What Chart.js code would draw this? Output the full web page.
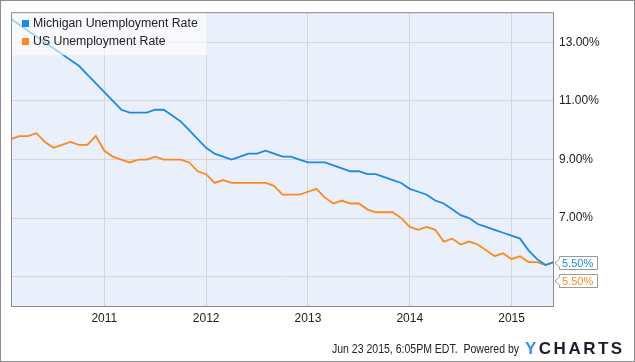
<!DOCTYPE html>
<html>
<head>
<meta charset="utf-8">
<script src="https://cdn.jsdelivr.net/npm/chart.js@4/dist/chart.umd.min.js"></script>
<style>
  body { margin: 0; background: #fff; }
  canvas { display: block; }
</style>
</head>
<body>
<canvas id="chart" width="635" height="362"></canvas>
<script>
// monthly values, Jan 2010 .. May 2015 (x = month number, Jan 2010 = 1)
const michiganRate = [
  13.8, 13.6, 13.4, 13.2, 13.0, 12.8, 12.6, 12.4, 12.2, 11.9, 11.6, 11.3,
  11.0, 10.7, 10.6, 10.6, 10.6, 10.7, 10.7, 10.5, 10.3, 10.0, 9.7, 9.4,
  9.2, 9.1, 9.0, 9.1, 9.2, 9.2, 9.3, 9.2, 9.1, 9.1, 9.0, 8.9,
  8.9, 8.9, 8.8, 8.7, 8.6, 8.6, 8.5, 8.5, 8.4, 8.3, 8.2, 8.0,
  7.9, 7.8, 7.6, 7.5, 7.3, 7.1, 7.0, 6.8, 6.7, 6.6, 6.5, 6.4,
  6.3, 5.9, 5.6, 5.4, 5.5
];
const usRate = [
  9.7, 9.8, 9.8, 9.9, 9.6, 9.4, 9.5, 9.6, 9.5, 9.5, 9.8, 9.3,
  9.1, 9.0, 8.9, 9.0, 9.0, 9.1, 9.0, 9.0, 9.0, 8.9, 8.6, 8.5,
  8.2, 8.3, 8.2, 8.2, 8.2, 8.2, 8.2, 8.1, 7.8, 7.8, 7.8, 7.9,
  8.0, 7.7, 7.5, 7.6, 7.5, 7.5, 7.3, 7.2, 7.2, 7.2, 7.0, 6.7,
  6.6, 6.7, 6.6, 6.2, 6.3, 6.1, 6.2, 6.1, 5.9, 5.7, 5.8, 5.6,
  5.7, 5.5, 5.5, 5.4, 5.5
];
const yearTicks = [12, 24, 36, 48, 60];     // Dec 31 of 2010..2014
const yearLabels = ['2011', '2012', '2013', '2014', '2015'];
const rateTicks = [5, 7, 9, 11, 13];
const seriesNames = ['Michigan Unemployment Rate', 'US Unemployment Rate'];
const seriesColors = ['#1e88e5', '#fb8a1e'];
const footerText = 'Jun 23 2015, 6:05PM EDT.  Powered by';

const FONT = '"Liberation Sans", Arial, sans-serif';

function toPoints(values) {
  return values.map((v, i) => ({ x: i + 1, y: v }));
}

const frame = {
  id: 'frame',
  beforeDraw(chart) {
    const ctx = chart.ctx;
    const a = chart.chartArea;
    ctx.save();
    ctx.fillStyle = '#eaf0fb';
    ctx.fillRect(a.left, a.top, a.right - a.left, a.bottom - a.top);
    ctx.restore();
  },
  afterDatasetsDraw(chart) {
    const ctx = chart.ctx;
    const a = chart.chartArea;
    ctx.save();
    // legend box over the lines
    ctx.fillStyle = 'rgba(255,255,255,0.6)';
    ctx.fillRect(a.left, a.top, 196, 43);
    ctx.font = '12.3px ' + FONT;
    ctx.textBaseline = 'middle';
    chart.data.datasets.forEach((ds, i) => {
      const y = 20 + i * 18;
      ctx.fillStyle = ds.borderColor;
      ctx.fillRect(22, y, 7, 7);
      ctx.fillStyle = '#222';
      ctx.fillText(ds.label, 33, y + 4);
    });
    // plot border
    ctx.strokeStyle = '#8a8a8a';
    ctx.lineWidth = 1;
    ctx.strokeRect(a.left + 0.5, a.top + 0.5, a.right - a.left - 1, a.bottom - a.top);
    ctx.restore();
  },
  afterDraw(chart) {
    const ctx = chart.ctx;
    const yScale = chart.scales.y;
    const a = chart.chartArea;
    ctx.save();
    // last-value tags
    let prev = -Infinity;
    chart.data.datasets.forEach(ds => {
      const last = ds.data[ds.data.length - 1].y;
      let cy = Math.round(yScale.getPixelForValue(last)) + 1;
      if (cy < prev + 18) cy = prev + 18;
      prev = cy;
      const x0 = a.right + 5, x1 = x0 + 38, h = 13;
      ctx.beginPath();
      ctx.moveTo(x0 + 0.5, cy - h / 2);
      ctx.lineTo(x1 + 0.5, cy - h / 2);
      ctx.lineTo(x1 + 0.5, cy + h / 2);
      ctx.lineTo(x0 + 0.5, cy + h / 2);
      ctx.lineTo(x0 + 0.5, cy + 4);
      ctx.lineTo(a.right + 1, cy);
      ctx.lineTo(x0 + 0.5, cy - 4);
      ctx.closePath();
      ctx.fillStyle = '#fff';
      ctx.fill();
      ctx.strokeStyle = '#999';
      ctx.lineWidth = 1;
      ctx.stroke();
      ctx.font = '11px ' + FONT;
      ctx.textBaseline = 'middle';
      ctx.fillStyle = ds.borderColor;
      ctx.fillText(last.toFixed(2) + '%', x0 + 3, cy + 1);
    });
    // footer, squeezed to the width it has in the original
    ctx.font = '12px ' + FONT;
    ctx.textBaseline = 'alphabetic';
    ctx.fillStyle = '#222';
    const w = ctx.measureText(footerText).width;
    ctx.save();
    ctx.translate(332, 353);
    ctx.scale(187 / w, 1);
    ctx.fillText(footerText, 0, 0);
    ctx.restore();
    ctx.font = 'bold 17px ' + FONT;
    let x = 525;
    'YCHARTS'.split('').forEach((ch, i) => {
      ctx.fillStyle = i === 0 ? '#3d8fe6' : '#1c1c2e';
      ctx.fillText(ch, x, 354);
      x += ctx.measureText(ch).width + 2.5;
    });
    // outer frame
    ctx.strokeStyle = '#8c8c8c';
    ctx.strokeRect(0.5, 0.5, 634, 361);
    ctx.restore();
  }
};

new Chart(document.getElementById('chart'), {
  type: 'line',
  data: {
    datasets: [
      {
        label: seriesNames[0],
        data: toPoints(michiganRate),
        borderColor: seriesColors[0],
        backgroundColor: seriesColors[0],
        borderWidth: 1.8,
        pointRadius: 0,
        tension: 0
      },
      {
        label: seriesNames[1],
        data: toPoints(usRate),
        borderColor: seriesColors[1],
        backgroundColor: seriesColors[1],
        borderWidth: 1.8,
        pointRadius: 0,
        tension: 0
      }
    ]
  },
  options: {
    responsive: false,
    animation: false,
    devicePixelRatio: 1,
    layout: { padding: { left: 11, top: 10, right: 0, bottom: 0 } },
    plugins: {
      legend: { display: false },
      tooltip: { enabled: false }
    },
    scales: {
      x: {
        type: 'linear',
        min: 1,
        max: 65,
        afterBuildTicks: scale => { scale.ticks = yearTicks.map(v => ({ value: v })); },
        afterFit: scale => { scale.height = 56; },
        grid: { color: '#d6d6d6', drawTicks: false },
        border: { display: false },
        ticks: {
          padding: 5,
          color: '#222',
          font: { family: FONT, size: 12 },
          callback: v => yearLabels[yearTicks.indexOf(v)]
        }
      },
      y: {
        position: 'right',
        min: 4,
        max: 14.03,
        afterBuildTicks: scale => { scale.ticks = rateTicks.map(v => ({ value: v })); },
        afterFit: scale => { scale.width = 81; },
        grid: { color: '#d6d6d6', drawTicks: false },
        border: { display: false },
        ticks: {
          padding: 5,
          color: '#222',
          font: { family: FONT, size: 12 },
          callback: v => (v === 5 ? '' : v.toFixed(2) + '%')
        }
      }
    }
  },
  plugins: [frame]
});
</script>
</body>
</html>
